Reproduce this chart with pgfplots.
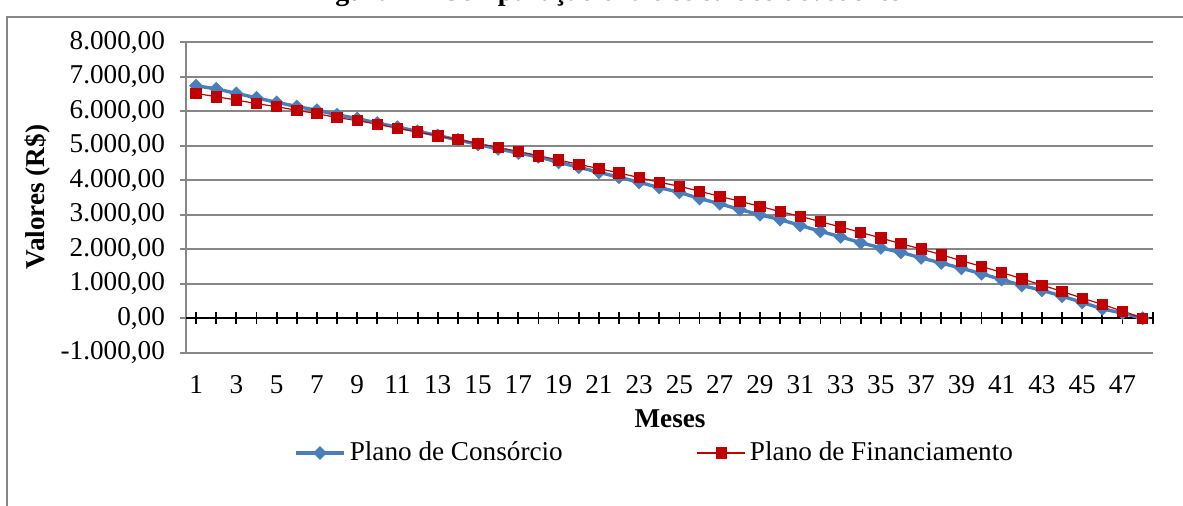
\documentclass[border=0pt]{standalone}
\usepackage{fontspec}
\setmainfont{Liberation Serif}
\usepackage{pgfplots}
\pgfplotsset{compat=1.18}

\definecolor{consorcio}{HTML}{4A7EBB}
\definecolor{financ}{HTML}{C00000}
\definecolor{gridgray}{RGB}{134,134,134}

\begin{document}
\begin{tikzpicture}
% page: 1183 x 505 px at 0.5pt per px
\useasboundingbox (0,0) rectangle (591.5pt,-252.5pt);
\draw[gridgray, line width=0.6pt] (3.5pt,-300pt) -- (3.5pt,-8.5pt) -- (700pt,-8.5pt);
\node[anchor=base west, inner sep=0pt, font=\bfseries\fontsize{14}{16}\selectfont]
  at (155pt,-0.3pt) {Figura 1 – Comparação entre os saldos devedores};

\begin{axis}[
  at={(93pt,-176.35pt)}, anchor=south west,
  scale only axis,
  width=483.35pt, height=155.2pt,
  xmin=0.5, xmax=48.5,
  ymin=-1000, ymax=8000,
  axis line style={draw=none},
  xtick={1,3,...,47},
  xtick style={draw=none},
  ytick={-1000,0,...,8000},
  yticklabels={{-1.000,00},{0,00},{1.000,00},{2.000,00},{3.000,00},{4.000,00},{5.000,00},{6.000,00},{7.000,00},{8.000,00}},
  ytick pos=left,
  tick align=outside,
  major tick length=3pt,
  ytick style={draw=gridgray, line width=0.9pt},
  ymajorgrids,
  grid style={gridgray, line width=0.9pt},
  /pgf/number format/assume math mode=true,
  tick label style={font=\fontsize{13.6}{15}\selectfont},
  xticklabel style={yshift=-5pt},
  yticklabel style={xshift=-4pt},
  clip=false,
  legend columns=2,
  legend style={at={(0.4858,-0.3231)}, anchor=center, draw=none, fill=none,
    font=\fontsize{13.6}{15}\selectfont,
    /tikz/every even column/.append style={column sep=65pt}},
  legend image code/.code={
    \draw[mark repeat=2,mark phase=2] plot coordinates {(0pt,0pt) (12pt,0pt) (24pt,0pt)};},
]
\draw[gridgray, line width=0.9pt] (axis cs:0.5,-1000) -- (axis cs:0.5,8000);
\draw[black, line width=1pt] (axis cs:0.5,0) -- (axis cs:48.5,0);
\pgfplotsinvokeforeach{1,...,48,48.5}{
  \draw[black, line width=0.9pt] ([yshift=-3pt]axis cs:#1,0) -- ([yshift=3pt]axis cs:#1,0);
}

\addplot[consorcio, line width=1.7pt, mark=square*, mark size=2.25pt,
  mark options={rotate=45, line width=0.4pt, fill=consorcio}]
  coordinates {
  (1,6740) (2,6650) (3,6520) (4,6390) (5,6260) (6,6140) (7,6030) (8,5900)
  (9,5790) (10,5660) (11,5540) (12,5420) (13,5300) (14,5170) (15,5040) (16,4910)
  (17,4790) (18,4680) (19,4520) (20,4380) (21,4230) (22,4090) (23,3940) (24,3790)
  (25,3650) (26,3470) (27,3320) (28,3150) (29,3000) (30,2860) (31,2690) (32,2520)
  (33,2360) (34,2190) (35,2040) (36,1910) (37,1750) (38,1600) (39,1450) (40,1290)
  (41,1120) (42,950) (43,810) (44,640) (45,460) (46,270) (47,150) (48,0)
  };
\addlegendentry{Plano de Consórcio}

\addplot[financ, line width=0.6pt, mark=square*, mark size=2.6pt,
  mark options={line width=0.4pt, fill=financ}]
  coordinates {
  (1,6519) (2,6423) (3,6327) (4,6221) (5,6135) (6,6029) (7,5933) (8,5817)
  (9,5731) (10,5625) (11,5510) (12,5404) (13,5288) (14,5183) (15,5067) (16,4952)
  (17,4837) (18,4712) (19,4587) (20,4462) (21,4337) (22,4212) (23,4077) (24,3942)
  (25,3826) (26,3681) (27,3535) (28,3390) (29,3245) (30,3090) (31,2955) (32,2800)
  (33,2645) (34,2490) (35,2325) (36,2161) (37,2006) (38,1841) (39,1667) (40,1503)
  (41,1328) (42,1144) (43,960) (44,777) (45,583) (46,399) (47,205) (48,0)
  };
\addlegendentry{Plano de Financiamento}
\end{axis}

\node[rotate=90, font=\bfseries\fontsize{13.6}{15}\selectfont] at (19pt,-98.5pt) {Valores (R\$)};
\node[font=\bfseries\fontsize{13.6}{15}\selectfont] at (335pt,-209.5pt) {Meses};
\end{tikzpicture}
\end{document}
